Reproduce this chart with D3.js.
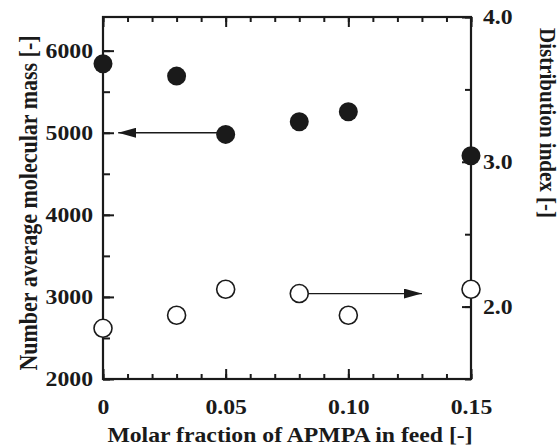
<!DOCTYPE html>
<html>
<head>
<meta charset="utf-8">
<script src="https://cdn.jsdelivr.net/npm/d3@7"></script>
<style>
  html, body { margin: 0; padding: 0; background: #fff; }
  svg text { font-family: "Liberation Serif", "DejaVu Serif", serif; font-weight: bold; fill: #1a1a1a; }
</style>
</head>
<body>
<svg id="chart" width="560" height="446"></svg>
<script>
// Data
var feedFraction = [0, 0.03, 0.05, 0.08, 0.10, 0.15];
var molecularMass = [5840, 5690, 4980, 5135, 5255, 4720];    // filled, left axis
var distributionIndex = [1.85, 1.94, 2.12, 2.09, 1.94, 2.12]; // open, right axis

var xMajorTicks = [0, 0.05, 0.10, 0.15];
var xTickLabels = ["0", "0.05", "0.10", "0.15"];
var leftMajorTicks = [2000, 3000, 4000, 5000, 6000];
var rightMajorTicks = [2.0, 3.0, 4.0];
var rightTickLabels = ["2.0", "3.0", "4.0"];

// arrows: [x0, x1, y] in data units
var massArrow = [0.05, 0.0062, 5000];
var indexArrow = [0.08, 0.13, 2.09];

var ink = "#1a1a1a"
  , stretch = 1.13   // the lettering in the original is a little wide
  , margin = { top: 17, left: 103, right: 89, bottom: 67 }
  , width = 560 - margin.left - margin.right
  , height = 446 - margin.top - margin.bottom
;

var svg = d3.select("#chart");
var g = svg.append("g").attr("transform", "translate(" + margin.left + "," + margin.top + ")");

var x = d3.scaleLinear().domain([0, 0.15]).range([0, width]);
var yLeft = d3.scaleLinear().domain([2000, 6410]).range([height, 0]);
var yRight = d3.scaleLinear().domain([1.5, 4.0]).range([height, 0]);

function minor(lo, hi, step) {
    return d3.range(Math.round((hi - lo) / step) + 1).map(function(i) { return lo + i * step; });
}

function styleAxis(sel) {
    sel.select(".domain").remove();
    sel.selectAll(".tick line").attr("stroke", ink).attr("stroke-width", 2);
    sel.selectAll(".tick text")
        .attr("font-size", 21)
        .attr("fill", ink)
        .each(function() {
            var t = d3.select(this)
              , tx = +t.attr("x") || 0
              , ty = +t.attr("y") || 0
            ;
            t.attr("x", 0).attr("y", 0)
             .attr("transform", "translate(" + tx + "," + ty + ") scale(" + stretch + ",1)");
        });
}

// minor ticks (no labels)
g.append("g").attr("transform", "translate(0," + height + ")")
    .call(d3.axisBottom(x).tickValues(minor(0, 0.15, 0.01)).tickSize(-5).tickFormat(""))
    .call(styleAxis);
g.append("g")
    .call(d3.axisTop(x).tickValues(minor(0, 0.15, 0.01)).tickSize(-5).tickFormat(""))
    .call(styleAxis);
g.append("g")
    .call(d3.axisLeft(yLeft).tickValues(minor(2000, 6000, 500)).tickSize(-7).tickFormat(""))
    .call(styleAxis);
g.append("g").attr("transform", "translate(" + width + ",0)")
    .call(d3.axisRight(yRight).tickValues(minor(1.5, 4.0, 0.5)).tickSize(-6).tickFormat(""))
    .call(styleAxis);

// major ticks with labels
g.append("g").attr("transform", "translate(0," + height + ")")
    .call(d3.axisBottom(x).tickValues(xMajorTicks).tickSize(-10).tickPadding(20)
        .tickFormat(function(d, i) { return xTickLabels[i]; }))
    .call(styleAxis);
g.append("g")
    .call(d3.axisTop(x).tickValues(xMajorTicks).tickSize(-10).tickFormat(""))
    .call(styleAxis);
g.append("g")
    .call(d3.axisLeft(yLeft).tickValues(leftMajorTicks).tickSize(-11).tickPadding(10)
        .tickFormat(d3.format("d")))
    .call(styleAxis);
g.append("g").attr("transform", "translate(" + width + ",0)")
    .call(d3.axisRight(yRight).tickValues(rightMajorTicks).tickSize(-9).tickPadding(12)
        .tickFormat(function(d, i) { return rightTickLabels[i]; }))
    .call(styleAxis);

// frame
g.append("rect")
    .attr("width", width).attr("height", height)
    .attr("fill", "none").attr("stroke", ink).attr("stroke-width", 2.2);

// arrows
svg.append("defs").append("marker")
    .attr("id", "head")
    .attr("viewBox", "0 0 18 10")
    .attr("refX", 18).attr("refY", 5)
    .attr("markerWidth", 18).attr("markerHeight", 10)
    .attr("markerUnits", "userSpaceOnUse")
    .attr("orient", "auto")
  .append("path")
    .attr("d", "M0,0 L18,5 L0,10 Z")
    .attr("fill", ink);

g.append("line")
    .attr("x1", x(massArrow[0])).attr("x2", x(massArrow[1]))
    .attr("y1", yLeft(massArrow[2])).attr("y2", yLeft(massArrow[2]))
    .attr("stroke", ink).attr("stroke-width", 1.3)
    .attr("marker-end", "url(#head)");
g.append("line")
    .attr("x1", x(indexArrow[0])).attr("x2", x(indexArrow[1]))
    .attr("y1", yRight(indexArrow[2])).attr("y2", yRight(indexArrow[2]))
    .attr("stroke", ink).attr("stroke-width", 1.3)
    .attr("marker-end", "url(#head)");

// points
g.selectAll(".mass").data(feedFraction)
  .enter().append("circle")
    .attr("class", "mass")
    .attr("cx", function(d) { return x(d); })
    .attr("cy", function(d, i) { return yLeft(molecularMass[i]); })
    .attr("r", 9.5)
    .attr("fill", ink);

g.selectAll(".index").data(feedFraction)
  .enter().append("circle")
    .attr("class", "index")
    .attr("cx", function(d) { return x(d); })
    .attr("cy", function(d, i) { return yRight(distributionIndex[i]); })
    .attr("r", 9)
    .attr("fill", "#fff")
    .attr("stroke", ink).attr("stroke-width", 1.6);

// axis titles
svg.append("text")
    .attr("transform", "translate(" + (margin.left + width / 2 + 3) + ",442) scale(" + stretch + ",1)")
    .attr("text-anchor", "middle").attr("font-size", 21)
    .text("Molar fraction of APMPA in feed [-]");
svg.append("text")
    .attr("transform", "translate(37," + (margin.top + height / 2 + 5) + ") scale(" + stretch + ",1) rotate(-90)")
    .attr("text-anchor", "middle").attr("font-size", 22)
    .text("Number average molecular mass [-]");
svg.append("text")
    .attr("transform", "translate(540,28) scale(" + stretch + ",1) rotate(90)")
    .attr("text-anchor", "start").attr("font-size", 21)
    .text("Distribution index [-]");
</script>
</body>
</html>
